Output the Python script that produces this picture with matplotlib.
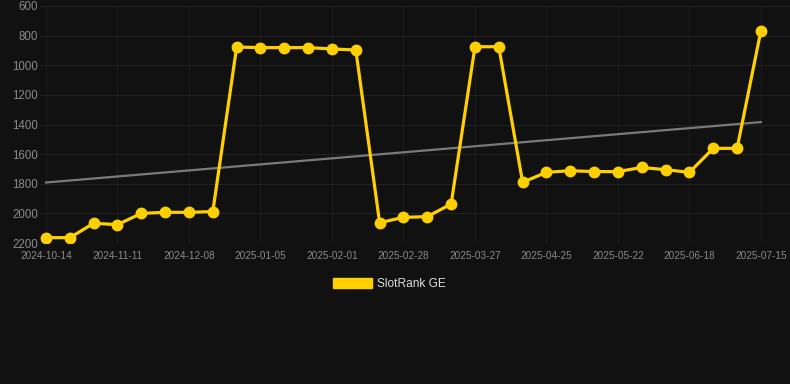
import matplotlib
matplotlib.use("Agg")
import matplotlib.pyplot as plt
from matplotlib.patches import Patch
import numpy as np

plt.rcParams['font.family'] = ['Liberation Sans', 'DejaVu Sans']

tick_labels = ["2024-10-14", "2024-11-11", "2024-12-08", "2025-01-05", "2025-02-01",
               "2025-02-28", "2025-03-27", "2025-04-25", "2025-05-22", "2025-06-18",
               "2025-07-15"]
ranks = [2164, 2164, 2067, 2076, 2000, 1993, 1993, 1988, 877, 881,
         881, 881, 890, 897, 2063, 2027, 2022, 1937, 875, 875,
         1790, 1723, 1712, 1718, 1718, 1690, 1705, 1723, 1561, 1561,
         766]
series_name = "SlotRank GE"

BG = "#111111"
GOLD = "#FFD000"

W, H = 790, 384
fig = plt.figure(figsize=(W / 100, H / 100), dpi=100, facecolor=BG)
ax = fig.add_axes([40 / W, 1 - 243 / H, 750 / W, 237 / H], facecolor=BG)

x = np.arange(len(ranks))
coef = np.polyfit(x, ranks, 1)
trend = np.polyval(coef, x)

ax.plot(x, trend, color="#7a7a7a", lw=1.6, zorder=2)
ax.plot(x, ranks, color=GOLD, lw=2.3, marker="o", markersize=7.5,
        markerfacecolor=GOLD, markeredgecolor=GOLD, zorder=3)

ax.set_ylim(2200, 600)
ax.set_xlim(-0.252, 31.22)
ax.set_yticks([600, 800, 1000, 1200, 1400, 1600, 1800, 2000, 2200])
ax.set_xticks(np.arange(0, len(ranks), 3))
ax.set_xticklabels(tick_labels)

ax.grid(True, axis="y", color="#222222", lw=0.8)
ax.grid(True, axis="x", color="#1c1c1c", lw=0.8)
ax.set_axisbelow(True)
for s in ax.spines.values():
    s.set_visible(False)
ax.tick_params(axis="both", length=0)
ax.tick_params(axis="y", labelsize=8.3, colors="#8a8a8a", pad=1.5)
ax.tick_params(axis="x", labelsize=7.2, colors="#8a8a8a", pad=6)

handle = Patch(facecolor=GOLD, edgecolor=GOLD)
leg = fig.legend([handle], [series_name], loc="center", bbox_to_anchor=(389.5 / W, 1 - 284 / H),
                 frameon=False, fontsize=8.6, handlelength=3.25, handleheight=0.85,
                 handletextpad=0.45, labelcolor="#dddddd")

fig.savefig("out.png", dpi=100, facecolor=BG)
